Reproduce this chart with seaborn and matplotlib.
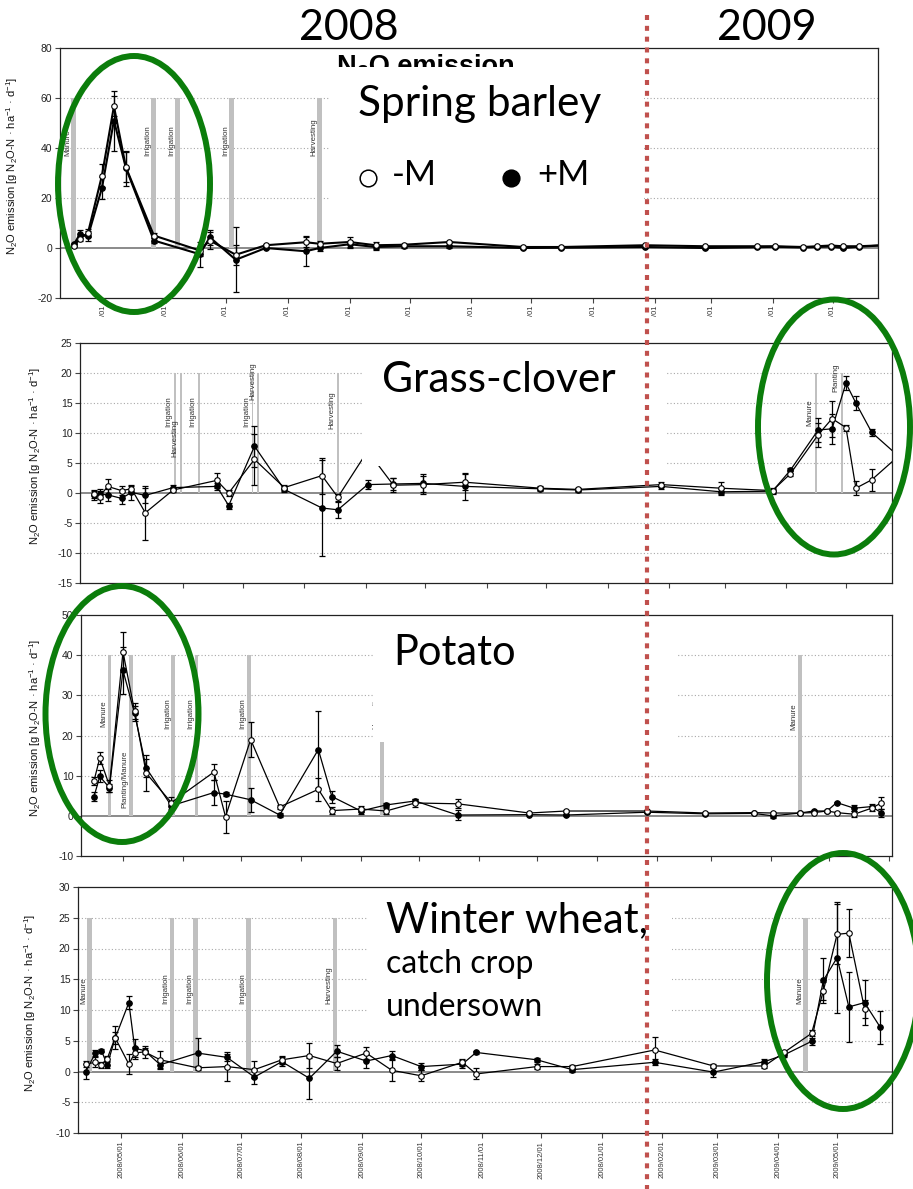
import matplotlib
matplotlib.use("Agg")
import numpy as np
import pandas as pd
import matplotlib.pyplot as plt
import matplotlib.dates as mdates
from matplotlib.patches import Ellipse, Rectangle
from matplotlib.lines import Line2D
import seaborn as sns

nan = np.nan

# ---------------- data ----------------
# Spring barley
sb_dates = ["2008-04-16", "2008-04-19", "2008-04-23", "2008-04-30", "2008-05-06", "2008-05-12", "2008-05-26",
            "2008-06-18", "2008-06-23", "2008-07-06", "2008-07-21", "2008-08-10", "2008-08-17", "2008-09-01",
            "2008-09-14", "2008-09-28", "2008-10-21", "2008-11-27", "2008-12-16", "2009-01-27", "2009-02-26",
            "2009-03-24", "2009-04-02", "2009-04-16", "2009-04-23", "2009-04-30", "2009-05-06", "2009-05-14",
            "2009-05-29"]
sb_noM = [1.0, 3.7, 6.0, 29.0, 56.7, 32.3, 5.0, -1.0, 3.0, -2.7, 1.1, 2.3, 1.7, 2.4, 1.1, 1.3, 2.4, 0.4, 0.4,
          1.1, 0.7, 0.7, 0.7, 0.4, 0.7, 1.0, 0.7, 0.7, 1.2]
sb_noM_err = [0.5, 1.0, 1.5, 4.5, 4.0, 6.0, 1.0, 2.0, 3.5, 4.0, 0.5, 2.0, 1.0, 2.0, 1.5, 0.5, 0.5, 0.3, 0.3,
              0.3, 0.3, 0.3, 0.3, 0.3, 0.3, 0.3, 0.3, 0.3, 0.0]
sb_M = [1.5, 5.6, 4.7, 24.0, 51.0, 32.0, 3.0, -2.5, 4.3, -4.7, 0.0, -1.3, 0.0, 1.5, 0.4, 0.7, 0.7, 0.0, 0.1,
        0.4, 0.0, 0.3, 0.5, 0.2, 0.4, 0.6, 0.0, 0.5, 1.2]
sb_M_err = [0.5, 1.5, 2.0, 4.5, 12.0, 7.0, 1.0, 5.0, 3.0, 13.0, 0.5, 6.0, 1.0, 1.5, 1.0, 0.5, 0.5, 0.3, 0.3,
            0.3, 0.3, 0.3, 0.3, 0.3, 0.3, 0.3, 0.3, 0.3, 0.0]
sb_ev_dates = ["2008-04-16", "2008-05-26", "2008-06-07", "2008-07-04", "2008-08-17"]
sb_ev_names = ["Manure", "Irrigation", "Irrigation", "Irrigation", "Harvesting"]
sb_ev_laby = [37, 37, 37, 37, 37]

# Grass-clover
gc_dates = ["2008-04-17", "2008-04-20", "2008-04-24", "2008-05-01", "2008-05-06", "2008-05-13", "2008-05-27",
            "2008-06-18", "2008-06-24", "2008-07-07", "2008-07-22", "2008-08-10", "2008-08-18", "2008-09-02",
            "2008-09-15", "2008-09-30", "2008-10-21", "2008-11-28", "2008-12-17", "2009-01-28", "2009-02-27",
            "2009-03-25", "2009-04-03", "2009-04-17", "2009-04-24", "2009-05-01", "2009-05-06", "2009-05-14",
            "2009-05-30"]
gc_noM = [-0.2, -0.6, 1.1, 0.4, 0.7, -3.3, 0.5, 2.1, 0.0, 5.6, 0.9, 2.9, -0.7, 7.0, 1.3, 1.4, 1.8, 0.8, 0.6,
          1.4, 0.8, 0.4, 3.2, 9.7, 12.4, 10.9, 0.8, 2.2, 6.9]
gc_noM_err = [0.6, 1.0, 1.2, 0.8, 0.5, 4.5, 0.4, 1.2, 0.5, 4.2, 0.5, 3.0, 0.6, 0.0, 1.2, 1.5, 1.3, 0.3, 0.3,
              0.4, 1.0, 0.4, 0.4, 2.0, 3.0, 0.5, 1.2, 1.8, 0.0]
gc_M = [-0.3, -0.2, -0.3, -0.9, 0.1, -0.4, 0.9, 1.1, -2.1, 7.8, 0.6, -2.5, -2.8, 1.4, 1.5, 1.6, 1.1, 0.7, 0.5,
        1.1, 0.2, 0.3, 3.8, 10.5, 10.7, 18.3, 15.0, 10.1, 5.4]
gc_M_err = [0.8, 0.8, 1.0, 1.0, 1.2, 1.2, 0.4, 0.6, 0.5, 3.4, 0.5, 8.0, 1.3, 0.8, 1.0, 1.5, 2.2, 0.3, 0.3,
            0.4, 0.5, 0.4, 0.4, 2.0, 2.5, 1.2, 1.2, 0.6, 0.0]
gc_ev_dates = ["2008-05-28", "2008-05-31", "2008-06-09", "2008-07-06", "2008-07-09", "2008-08-18",
               "2009-04-16", "2009-04-29"]
gc_ev_names = ["Irrigation", "Harvesting", "Irrigation", "Irrigation", "Harvesting", "Harvesting",
               "Manure", "Planting"]
gc_ev_laby = [11, 6, 11, 11, 15.5, 10.7, 11.2, 16.8]

# Potato
po_dates = ["2008-04-16", "2008-04-19", "2008-04-24", "2008-05-01", "2008-05-07", "2008-05-13", "2008-05-26",
            "2008-06-17", "2008-06-23", "2008-07-06", "2008-07-21", "2008-08-10", "2008-08-17", "2008-09-01",
            "2008-09-14", "2008-09-29", "2008-10-21", "2008-11-27", "2008-12-16", "2009-01-27", "2009-02-26",
            "2009-03-23", "2009-04-02", "2009-04-16", "2009-04-23", "2009-04-30", "2009-05-05", "2009-05-14",
            "2009-05-23", "2009-05-28"]
po_noM = [8.7, 14.4, 7.5, 40.8, 26.0, 10.6, 3.3, 10.9, -0.2, 19.0, 2.2, 6.6, 1.3, 1.7, 1.2, 3.2, 3.0, 0.7, 1.2,
          1.2, 0.7, 0.8, 0.7, 0.7, 0.8, 1.2, 0.8, 0.4, 1.9, 3.2]
po_noM_err = [1.0, 1.5, 1.5, 5.0, 2.0, 4.5, 1.5, 2.0, 4.0, 4.4, 0.5, 2.8, 0.8, 0.8, 0.8, 1.0, 1.1, 0.2, 0.3,
              0.3, 0.2, 0.2, 0.3, 0.2, 0.2, 0.2, 0.2, 0.8, 0.6, 1.5]
po_M = [4.8, 9.8, 7.0, 36.2, 25.5, 11.9, 2.5, 5.8, 5.4, 4.0, 0.2, 16.5, 4.8, 1.2, 2.7, 3.7, 0.2, 0.3, 0.2,
        0.9, 0.5, 0.6, 0.0, 0.7, 1.2, 1.2, 3.3, 1.9, 2.3, 0.8]
po_M_err = [1.2, 1.5, 1.0, 5.8, 1.8, 2.3, 1.0, 3.2, 0.5, 3.0, 0.5, 9.5, 1.5, 0.8, 0.5, 0.4, 1.2, 0.2, 0.3,
            0.3, 0.2, 0.2, 0.6, 0.2, 0.2, 0.2, 0.2, 0.8, 0.6, 1.0]
po_ev_dates = ["2008-04-24", "2008-05-05", "2008-05-27", "2008-06-08", "2008-07-05", "2008-09-12", "2009-04-16"]
po_ev_names = ["Manure", "Planting/Manure", "Irrigation", "Irrigation", "Irrigation", "Harvesting", "Manure"]
po_ev_laby = [22, 2, 21.6, 21.6, 21.6, 21.6, 21.4]

# Winter wheat, catch crop undersown
ww_dates = ["2008-04-13", "2008-04-18", "2008-04-21", "2008-04-24", "2008-04-28", "2008-05-05", "2008-05-08",
            "2008-05-13", "2008-05-21", "2008-06-09", "2008-06-24", "2008-07-08", "2008-07-22", "2008-08-05",
            "2008-08-19", "2008-09-03", "2008-09-16", "2008-10-01", "2008-10-22", "2008-10-29", "2008-11-29",
            "2008-12-17", "2009-01-28", "2009-02-27", "2009-03-25", "2009-04-04", "2009-04-18", "2009-04-24",
            "2009-05-01", "2009-05-07", "2009-05-15", "2009-05-23"]
ww_noM = [1.2, 1.5, 1.1, 2.1, 5.5, 1.2, 3.0, 3.2, 1.9, 0.6, 0.8, 0.3, 1.9, 2.6, 1.3, 3.0, 0.2, -0.7, 1.5, -0.4,
          0.8, 0.8, 3.5, 0.9, 0.9, 3.1, 6.2, 13.1, 22.3, 22.5, 10.2, nan]
ww_noM_err = [0.5, 0.8, 0.5, 0.5, 1.9, 1.6, 1.0, 1.0, 1.5, 0.3, 2.4, 1.4, 0.7, 2.1, 1.0, 1.0, 1.8, 0.9, 0.6,
              0.9, 0.4, 0.3, 2.1, 0.3, 0.3, 0.3, 0.5, 1.5, 4.9, 3.9, 1.5, nan]
ww_M = [0.0, 3.0, 3.4, 1.1, 5.4, 11.2, 3.8, 3.4, 1.1, 3.0, 2.3, -0.9, 1.6, -1.1, 3.3, 1.7, 2.6, 0.8, 1.2, 3.1,
        1.9, 0.3, 1.5, -0.1, 1.6, 2.7, 4.9, 14.8, 18.5, 10.5, 11.2, 7.2]
ww_M_err = [1.3, 0.5, 0.3, 0.6, 1.0, 1.1, 1.5, 0.5, 0.5, 2.5, 0.6, 1.1, 0.7, 3.3, 1.0, 1.1, 0.8, 0.6, 0.6, 0.3,
            0.3, 0.3, 0.5, 0.8, 0.4, 0.3, 0.6, 3.7, 9.0, 5.7, 3.7, 2.7]
ww_ev_dates = ["2008-04-15", "2008-05-27", "2008-06-08", "2008-07-05", "2008-08-18", "2009-04-15"]
ww_ev_names = ["Manure", "Irrigation", "Irrigation", "Irrigation", "Harvesting", "Manure"]
ww_ev_laby = [11, 11, 11, 11, 11, 11]

month_ticks = ["2008-05-01", "2008-06-01", "2008-07-01", "2008-08-01", "2008-09-01", "2008-10-01",
               "2008-11-01", "2008-12-01", "2009-01-01", "2009-02-01", "2009-03-01", "2009-04-01",
               "2009-05-01"]
extra_tick = ["2009-06-01"]
bottom_tick_labels = ["2008/05/01", "2008/06/01", "2008/07/01", "2008/08/01", "2008/09/01", "2008/10/01",
                      "2008/11/01", "2008/12/01", "2008/01/01", "2009/02/01", "2009/03/01", "2009/04/01",
                      "2009/05/01"]
top_tick_labels = ["/01"] * 13

# ---------------- style ----------------
sns.set_theme(style="white")
plt.rcParams["font.family"] = ["Liberation Sans", "DejaVu Sans"]
plt.rcParams["mathtext.fontset"] = "custom"
plt.rcParams["mathtext.rm"] = "Liberation Sans"
plt.rcParams["mathtext.it"] = "Liberation Sans:italic"
plt.rcParams["mathtext.bf"] = "Liberation Sans:bold"

W, H = 913, 1189
fig = plt.figure(figsize=(W / 100, H / 100), dpi=100)
fig.patch.set_facecolor("white")


def fx(x):
    return x / W


def fy(y):
    return 1 - y / H


def rect(l, t, r, b):
    return [l / W, 1 - b / H, (r - l) / W, (b - t) / H]


ylabel = "N$_2$O emission [g N$_2$O-N \u00b7 ha$^{-1}$ \u00b7 d$^{-1}$]"

panels = [
    dict(rect=rect(60, 48, 878, 298), xlim=("2008-04-09", "2009-05-23 14:00"), ylim=(-20, 80),
         yticks=np.arange(-20, 81, 20), grid=[20, 40, 60],
         data=(sb_dates, sb_noM, sb_noM_err, sb_M, sb_M_err),
         ev=(sb_ev_dates, sb_ev_names, sb_ev_laby), bar_h=60, bar_w=2.5, lw=1.5,
         labels=top_tick_labels, ticks=month_ticks, ylab_x=-0.049),
    dict(rect=rect(80, 343, 892, 583), xlim=("2008-04-10 02:00", "2009-05-24 05:00"), ylim=(-15, 25),
         yticks=np.arange(-15, 26, 5), grid=[-10, -5, 5, 10, 15, 20],
         data=(gc_dates, gc_noM, gc_noM_err, gc_M, gc_M_err),
         ev=(gc_ev_dates, gc_ev_names, gc_ev_laby), bar_h=20, bar_w=1.0, lw=0.9,
         labels=None, ticks=month_ticks, ylab_x=-0.046),
    dict(rect=rect(81, 615, 892, 856), xlim=("2008-04-09 07:00", "2009-06-02 14:00"), ylim=(-10, 50),
         yticks=np.arange(-10, 51, 10), grid=[10, 20, 30, 40],
         data=(po_dates, po_noM, po_noM_err, po_M, po_M_err),
         ev=(po_ev_dates, po_ev_names, po_ev_laby), bar_h=40, bar_w=2.0, lw=0.9,
         labels=None, ticks=month_ticks + extra_tick, ylab_x=-0.047),
    dict(rect=rect(78, 887, 892, 1133), xlim=("2008-04-09 02:00", "2009-05-29"), ylim=(-10, 30),
         yticks=np.arange(-10, 31, 5), grid=[-5, 5, 10, 15, 20, 25],
         data=(ww_dates, ww_noM, ww_noM_err, ww_M, ww_M_err),
         ev=(ww_ev_dates, ww_ev_names, ww_ev_laby), bar_h=25, bar_w=2.3, lw=0.9,
         labels=bottom_tick_labels, ticks=month_ticks, ylab_x=-0.049),
]

for p in panels:
    ax = fig.add_axes(p["rect"])
    ax.set_facecolor("white")
    dates, noM, noM_err, M, M_err = p["data"]
    d = pd.to_datetime(dates)

    for g in p["grid"]:
        ax.axhline(g, color="#a8a8a8", lw=0.8, ls=(0, (1, 2)), zorder=0.5)
    ax.axhline(0, color="#8a8a8a", lw=1.4, zorder=0.6)

    ev_dates, ev_names, ev_laby = p["ev"]
    ed = pd.to_datetime(ev_dates)
    ax.bar(ed, [p["bar_h"]] * len(ed), width=p["bar_w"], color="#c0c0c0", zorder=1, linewidth=0)
    for dt, nm, ly in zip(ed, ev_names, ev_laby):
        ax.annotate(nm, xy=(mdates.date2num(dt), ly), xytext=(-4.3, 0), textcoords="offset points",
                    rotation=90, ha="center", va="bottom", fontsize=5.7, color="#333333", zorder=1.5)

    ax.errorbar(d, M, yerr=M_err, fmt="none", ecolor="black", elinewidth=0.9, capsize=2.2,
                capthick=0.9, zorder=2)
    ax.errorbar(d, noM, yerr=noM_err, fmt="none", ecolor="black", elinewidth=0.9, capsize=2.2,
                capthick=0.9, zorder=2)
    sns.lineplot(x=d, y=M, ax=ax, color="black", linewidth=p["lw"], marker="o", markersize=4,
                 markerfacecolor="black", markeredgecolor="black", markeredgewidth=0.8,
                 errorbar=None, sort=False, zorder=3)
    sns.lineplot(x=d, y=noM, ax=ax, color="black", linewidth=p["lw"], marker="o", markersize=4,
                 markerfacecolor="white", markeredgecolor="black", markeredgewidth=0.8,
                 errorbar=None, sort=False, zorder=3.5)

    ax.set_xlim(pd.to_datetime(p["xlim"][0]), pd.to_datetime(p["xlim"][1]))
    ax.set_ylim(*p["ylim"])
    ax.set_yticks(p["yticks"])
    ax.set_yticklabels([str(int(v)) for v in p["yticks"]], fontsize=7.5, color="#222222")
    ax.set_xticks(pd.to_datetime(p["ticks"]))
    if p["labels"] is not None:
        ax.set_xticklabels(p["labels"], rotation=90, fontsize=5.5, color="#333333")
    else:
        ax.set_xticklabels([])
    ax.tick_params(axis="both", direction="out", length=3.5, width=0.8, colors="#444444",
                   bottom=True, left=True, pad=2)
    ax.tick_params(axis="y", labelcolor="#222222")
    ax.tick_params(axis="x", labelcolor="#333333")
    for s in ax.spines.values():
        s.set_color("#222222")
        s.set_linewidth(0.9)
    ax.set_xlabel("")
    ax.set_ylabel(ylabel, fontsize=8, color="#111111")
    ax.yaxis.set_label_coords(p["ylab_x"], 0.53)
    ax.grid(False)

# clipped title behind the label box of the first panel
fig.text(fx(337), fy(74), "N\u2082O emission", fontweight="bold", fontsize=19.5, color="black",
         ha="left", va="baseline", zorder=4)

# white label boxes over the panels
for (l, t, r, b) in [(330, 67, 644, 225), (362, 345, 667, 466), (373, 617, 677, 742), (367, 889, 672, 1030)]:
    fig.add_artist(Rectangle((fx(l), fy(b)), (r - l) / W, (b - t) / H, transform=fig.transFigure,
                             facecolor="white", edgecolor="none", zorder=5))

big = dict(family=["Lato", "DejaVu Sans"], color="black", zorder=6)
fig.text(fx(349), fy(40), "2008", ha="center", va="baseline", fontsize=31, **big)
fig.text(fx(767), fy(40), "2009", ha="center", va="baseline", fontsize=31, **big)
fig.text(fx(358), fy(116), "Spring barley", ha="left", va="baseline", fontsize=30.5, **big)
fig.text(fx(392), fy(185), "-M", ha="left", va="baseline", fontsize=25, **big)
fig.text(fx(537), fy(185), "+M", ha="left", va="baseline", fontsize=25, **big)
fig.add_artist(Line2D([fx(368)], [fy(178)], marker="o", ms=12, mfc="white", mec="black", mew=1.1,
                      transform=fig.transFigure, zorder=6))
fig.add_artist(Line2D([fx(511)], [fy(178)], marker="o", ms=12, mfc="black", mec="black", mew=1.1,
                      transform=fig.transFigure, zorder=6))
fig.text(fx(382), fy(392), "Grass-clover", ha="left", va="baseline", fontsize=30.5, **big)
fig.text(fx(393), fy(665), "Potato", ha="left", va="baseline", fontsize=30, **big)
fig.text(fx(386), fy(932), "Winter wheat,", ha="left", va="baseline", fontsize=30, **big)
fig.text(fx(386), fy(973), "catch crop", ha="left", va="baseline", fontsize=23, **big)
fig.text(fx(386), fy(1016), "undersown", ha="left", va="baseline", fontsize=23, **big)

# green highlight ellipses
for (cx, cy, w, h) in [(134, 184, 152, 256), (834, 427, 152, 255), (122, 714, 153, 256), (843, 981, 152, 256)]:
    fig.add_artist(Ellipse((fx(cx), fy(cy)), w / W, h / H, transform=fig.transFigure, fill=False,
                           edgecolor="#0b7d0b", lw=4.3, zorder=7))

# red dotted year divider
fig.add_artist(Line2D([fx(646.5), fx(646.5)], [fy(15), fy(1189)], color="#C0504D", lw=3,
                      linestyle=(0, (1.2, 1.4)), transform=fig.transFigure, zorder=8))

fig.savefig("out.png", dpi=100, facecolor="white")
